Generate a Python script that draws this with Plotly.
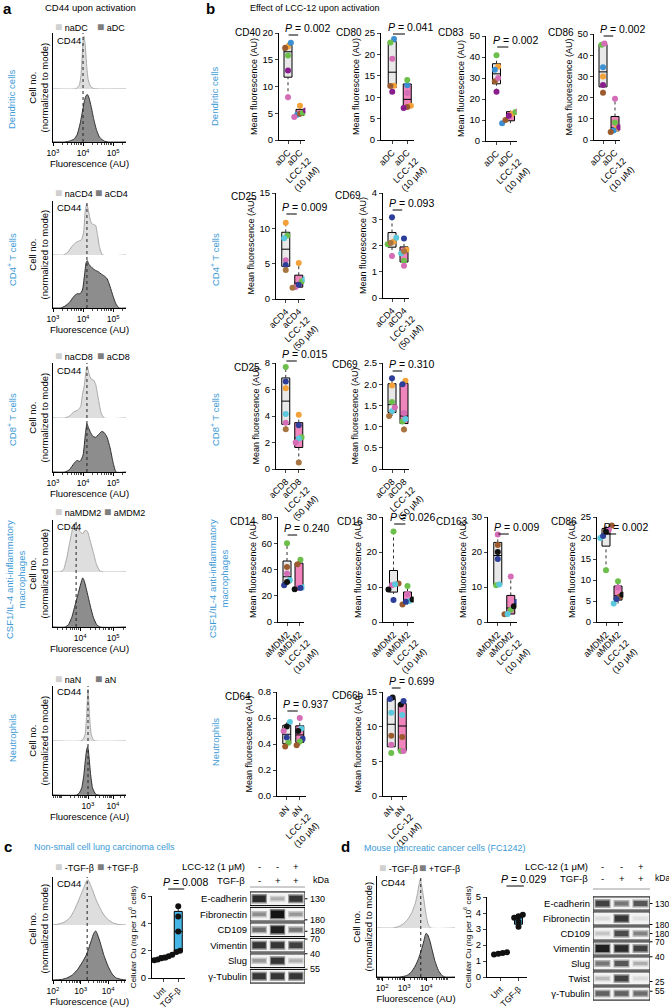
import numpy as np
import plotly.graph_objects as go

W, H = 669, 1008
FONT = "Liberation Sans, Arial, Helvetica, sans-serif"
BLUE = "#3d9ad6"
C_ORANGE = "#f3a23a"; C_BLUE = "#3b8fd3"; C_BROWN = "#9c5b2e"; C_GREEN = "#6dbf4c"
C_PURPLE = "#8a1d8c"; C_PINK = "#d46db6"; C_DBLUE = "#2c3e98"; C_CYAN = "#5cc8de"
C_TAN = "#a8743f"; C_BLACK = "#111111"

# ======================= DATA =======================
# Panel a: CD44 histograms (x = log10 fluorescence, y = cell no. normalized to mode)
dc_na_x = [3.0, 3.7, 3.8, 3.88, 3.93, 3.97, 4.0, 4.03, 4.07, 4.12, 4.17, 4.25, 4.35, 4.5, 5.43]
dc_na_y = [0, 0, 0.02, 0.08, 0.25, 0.6, 0.9, 1.0, 0.85, 0.45, 0.18, 0.05, 0.01, 0, 0]
dc_a_x = [3.0, 3.4, 3.55, 3.7, 3.8, 3.9, 3.98, 4.05, 4.1, 4.15, 4.2, 4.27, 4.35, 4.45, 4.55, 4.7, 4.85, 5.43]
dc_a_y = [0, 0, 0.02, 0.06, 0.15, 0.38, 0.65, 0.88, 0.98, 1.0, 0.93, 0.75, 0.5, 0.25, 0.1, 0.02, 0, 0]

cd4_na_x = [3.0, 3.35, 3.5, 3.62, 3.75, 3.85, 3.95, 4.02, 4.07, 4.12, 4.17, 4.22, 4.28, 4.35, 4.42, 4.48, 4.55, 4.65, 5.43]
cd4_na_y = [0, 0, 0.06, 0.16, 0.24, 0.27, 0.3, 0.45, 0.85, 1.0, 0.9, 0.75, 0.62, 0.6, 0.58, 0.4, 0.15, 0, 0]
cd4_a_x = [3.0, 3.25, 3.4, 3.55, 3.7, 3.8, 3.9, 3.98, 4.05, 4.1, 4.14, 4.2, 4.3, 4.4, 4.5, 4.6, 4.7, 4.8, 4.9, 5.0, 5.1, 5.2, 5.43]
cd4_a_y = [0, 0, 0.04, 0.12, 0.25, 0.3, 0.3, 0.38, 0.7, 0.95, 1.0, 0.92, 0.85, 0.8, 0.77, 0.72, 0.68, 0.62, 0.45, 0.25, 0.08, 0, 0]

cd8_na_x = [3.0, 3.4, 3.55, 3.7, 3.82, 3.92, 3.98, 4.04, 4.1, 4.14, 4.2, 4.27, 4.35, 4.42, 4.5, 4.6, 4.7, 5.43]
cd8_na_y = [0, 0, 0.04, 0.12, 0.15, 0.22, 0.45, 0.62, 0.9, 1.0, 0.85, 0.75, 0.73, 0.65, 0.4, 0.1, 0, 0]
cd8_a_x = [3.0, 3.4, 3.55, 3.7, 3.8, 3.9, 4.0, 4.08, 4.13, 4.18, 4.25, 4.33, 4.42, 4.52, 4.62, 4.7, 4.8, 4.9, 5.0, 5.1, 5.43]
cd8_a_y = [0, 0, 0.05, 0.18, 0.24, 0.22, 0.35, 0.8, 1.0, 0.92, 0.82, 0.74, 0.72, 0.78, 0.84, 0.82, 0.72, 0.5, 0.2, 0, 0]

mdm_na_x = [3.18, 3.4, 3.5, 3.6, 3.7, 3.78, 3.85, 3.92, 4.0, 4.08, 4.15, 4.22, 4.3, 4.4, 4.5, 4.6, 4.7, 5.39]
mdm_na_y = [0, 0, 0.05, 0.3, 0.65, 0.9, 1.0, 0.92, 0.82, 0.78, 0.85, 0.83, 0.65, 0.4, 0.15, 0.02, 0, 0]
mdm_a_x = [3.18, 3.55, 3.65, 3.75, 3.85, 3.95, 4.02, 4.08, 4.12, 4.18, 4.25, 4.32, 4.4, 4.5, 4.6, 5.39]
mdm_a_y = [0, 0, 0.05, 0.2, 0.45, 0.7, 0.88, 1.0, 0.95, 0.8, 0.6, 0.4, 0.2, 0.05, 0, 0]

neu_na_x = [1.6, 2.7, 2.8, 2.88, 2.94, 2.98, 3.0, 3.02, 3.06, 3.12, 3.2, 3.3, 4.52]
neu_na_y = [0, 0, 0.03, 0.12, 0.45, 0.85, 1.0, 0.88, 0.5, 0.15, 0.03, 0, 0]
neu_a_x = [1.6, 2.55, 2.65, 2.75, 2.83, 2.9, 2.95, 2.99, 3.04, 3.1, 3.18, 3.3, 3.4, 4.52]
neu_a_y = [0, 0, 0.04, 0.15, 0.4, 0.75, 0.95, 1.0, 0.8, 0.45, 0.15, 0.02, 0, 0]

# Panel c / d: CD44 histograms (-TGF-b / +TGF-b)
c_no_x = [2.0, 2.2, 2.4, 2.6, 2.75, 2.9, 3.0, 3.1, 3.2, 3.27, 3.35, 3.45, 3.55, 3.7, 3.85, 4.0, 4.2, 4.4, 4.65]
c_no_y = [0, 0.02, 0.06, 0.15, 0.3, 0.5, 0.65, 0.8, 0.95, 1.0, 0.9, 0.75, 0.58, 0.38, 0.22, 0.12, 0.04, 0.01, 0]
c_tgf_x = [2.0, 2.3, 2.5, 2.7, 2.9, 3.05, 3.2, 3.3, 3.4, 3.48, 3.55, 3.62, 3.72, 3.85, 4.0, 4.15, 4.3, 4.5, 4.65]
c_tgf_y = [0, 0.01, 0.04, 0.1, 0.22, 0.35, 0.5, 0.65, 0.82, 0.95, 1.0, 0.92, 0.75, 0.5, 0.28, 0.12, 0.04, 0.01, 0]
d_no_x = [1.77, 2.5, 2.8, 3.0, 3.2, 3.35, 3.5, 3.6, 3.68, 3.73, 3.8, 3.9, 4.0, 4.1, 4.2, 5.3]
d_no_y = [0, 0, 0.04, 0.1, 0.2, 0.32, 0.5, 0.7, 0.9, 1.0, 0.85, 0.55, 0.25, 0.06, 0, 0]
d_tgf_x = [1.77, 2.8, 3.1, 3.3, 3.5, 3.65, 3.78, 3.88, 3.95, 4.0, 4.07, 4.15, 4.25, 4.4, 4.55, 4.7, 4.85, 5.3]
d_tgf_y = [0, 0, 0.03, 0.1, 0.25, 0.42, 0.62, 0.8, 0.95, 1.0, 0.96, 0.85, 0.65, 0.35, 0.15, 0.04, 0, 0]

# Panel b: mean fluorescence per donor (control, LCC-12)
dc_colors = [C_ORANGE, C_BLUE, C_BROWN, C_GREEN, C_PURPLE, C_PINK]
cd40_ctrl = [17.5, 18.2, 17.2, 15.8, 13.0, 8.0]
cd40_lcc = [6.4, 4.7, 4.9, 5.1, 5.5, 4.3]
cd80_ctrl = [12.7, 23.6, 12.6, 22.8, 11.3, 19.0]
cd80_lcc = [8.0, 12.8, 7.7, 14.0, 7.5, 11.0]
cd83_ctrl = [35.5, 34.0, 28.5, 40.8, 23.5, 30.0]
cd83_lcc = [13.0, 8.5, 10.0, 13.8, 12.0, 14.5]
cd86dc_ctrl = [30.0, 34.3, 22.3, 45.0, 26.0, 45.5]
cd86dc_lcc = [5.5, 4.5, 3.8, 8.3, 6.0, 19.5]

t_colors = [C_ORANGE, C_GREEN, C_CYAN, C_PINK, C_DBLUE, C_TAN]
cd25_cd4_ctrl = [10.8, 9.0, 8.6, 5.5, 4.8, 4.1]
cd25_cd4_lcc = [5.1, 2.5, 2.8, 1.7, 2.0, 1.6]
cd69_cd4_ctrl = [2.14, 2.05, 2.3, 1.6, 3.08, 2.1]
cd69_cd4_lcc = [1.84, 1.42, 1.7, 1.23, 2.27, 1.78]
cd25_cd8_ctrl = [6.1, 7.7, 4.15, 3.5, 6.6, 3.0]
cd25_cd8_lcc = [4.1, 2.4, 2.3, 2.0, 3.3, 0.5]
cd69_cd8_ctrl = [1.97, 1.58, 1.36, 1.46, 2.14, 1.25]
cd69_cd8_lcc = [2.08, 1.12, 1.18, 1.32, 2.0, 0.93]

m_colors = [C_GREEN, C_BROWN, C_PINK, C_CYAN, C_DBLUE, C_BLACK]
cd14_ctrl = [60.0, 42.0, 37.0, 32.0, 28.0, 30.5]
cd14_lcc = [47.5, 44.0, 26.0, 26.5, 26.0, 25.0]
cd16_ctrl = [25.9, 11.0, 10.5, 10.8, 6.3, 9.3]
cd16_lcc = [10.3, 5.0, 8.0, 6.0, 5.8, 6.4]
cd163_ctrl = [10.5, 22.0, 25.0, 10.7, 18.0, 20.0]
cd163_lcc = [3.5, 2.2, 13.0, 2.3, 5.8, 4.5]
cd86m_ctrl = [12.3, 23.0, 22.0, 20.0, 20.5, 21.5]
cd86m_lcc = [9.7, 6.0, 8.2, 4.4, 5.5, 6.5]

n_colors = [C_CYAN, C_BLACK, C_DBLUE, C_GREEN, C_BROWN, C_PINK]
cd64_ctrl = [0.57, 0.535, 0.45, 0.41, 0.38, 0.50]
cd64_lcc = [0.52, 0.50, 0.44, 0.42, 0.39, 0.60]
cd66b_ctrl = [12.0, 14.2, 14.0, 6.2, 8.7, 7.4]
cd66b_lcc = [11.7, 13.2, 13.7, 6.5, 8.5, 6.5]

# Panels c / d: cellular Cu (ng per 10^6 cells)
c_cu_unt = [1.3, 1.35, 1.45, 1.5, 1.6, 1.7]
c_cu_tgf = [5.25, 4.5, 3.4, 2.0, 1.9]
d_cu_unt = [1.4, 1.45, 1.5, 1.55]
d_cu_tgf = [3.9, 3.8, 3.7, 3.45, 3.15]

# Western blots: band intensity (0 = none, 1 = saturated), lanes 1-3
c_proteins = ["E-cadherin", "Fibronectin", "CD109", "Vimentin", "Slug", "γ-Tubulin"]
c_bands = [[0.9, 0.3, 0.85], [0.45, 1.0, 0.4], [0.6, 0.95, 0.55],
           [0.85, 0.85, 0.8], [0.4, 0.85, 0.3], [0.85, 0.85, 0.85]]
d_proteins = ["E-cadherin", "Fibronectin", "CD109", "Vimentin", "Slug", "Twist", "γ-Tubulin"]
d_bands = [[0.8, 0.55, 0.7], [0.1, 0.85, 0.08], [0.2, 0.75, 0.5], [0.95, 0.9, 0.8],
           [0.55, 0.7, 0.3], [0.25, 0.8, 0.1], [0.65, 0.65, 0.6]]
lcc_row = ["-", "-", "+"]
tgf_row = ["-", "+", "+"]
c_kda = [(0, "130"), (1.36, "180"), (2.1, "180"), (2.6, "70"), (3.55, "40"), (4.55, "55")]
d_kda = [(0, "130"), (1.4, "180"), (2.0, "180"), (2.55, "70"), (3.55, "40"), (5.2, "25"), (5.85, "55")]

# ======================= FIGURE =======================
fig = go.Figure()
layout = dict(width=W, height=H, margin=dict(l=0, r=0, t=0, b=0, pad=0, autoexpand=False),
              template="none",
              paper_bgcolor="white", plot_bgcolor="rgba(0,0,0,0)", showlegend=False,
              font=dict(family=FONT, size=9, color="black"))
annotations, shapes = [], []
cnt = {"x": 0, "y": 0}


def new_axis(k):
    cnt[k] += 1
    n = cnt[k]
    return (f"{k}axis" if n == 1 else f"{k}axis{n}"), (k if n == 1 else f"{k}{n}")


def txt(x, y, s, size=9, color="black", xanchor="center", yanchor="middle", angle=0,
        xref="paper", yref="paper", align="center"):
    annotations.append(dict(
        x=x / W if xref == "paper" else x, y=1 - y / H if yref == "paper" else y,
        xref=xref, yref=yref, text=s, showarrow=False, xanchor=xanchor, yanchor=yanchor,
        textangle=angle, align=align, font=dict(size=size, color=color, family=FONT)))


def hist_block(x0, x1, ytop, ymid, ybot, xr, na_x, na_y, a_x, a_y, dash, majors,
               leg, leg_y, leg_x2, cd_y):
    xk, xref = new_axis("x")
    ybk, ybref = new_axis("y")
    ytk, ytref = new_axis("y")
    minors = []
    for e in range(int(np.floor(xr[0])), int(np.ceil(xr[1])) + 1):
        for m in range(2, 10):
            v = float(np.log10(m) + e)
            if xr[0] <= v <= xr[1]:
                minors.append(v)
    layout[xk] = dict(domain=[x0 / W, x1 / W], range=xr, anchor=ybref, showline=True,
                      automargin=False,
                      linecolor="black", linewidth=1, ticks="outside", ticklen=3, tickwidth=1,
                      tickcolor="black", tickvals=majors,
                      ticktext=[f"10<sup>{m}</sup>" for m in majors], tickfont=dict(size=8.5),
                      showgrid=False, zeroline=False,
                      title=dict(text="Fluorescence (AU)", font=dict(size=9.5), standoff=0),
                      minor=dict(tickvals=minors, ticks="outside", ticklen=2, tickwidth=0.7,
                                 tickcolor="black", showgrid=False))
    cy = dict(showline=True, linecolor="black", linewidth=1, showticklabels=False, ticks="",
              showgrid=False, zeroline=False, anchor=xref, automargin=False)
    layout[ybk] = dict(domain=[1 - ybot / H, 1 - ymid / H], range=[0, 1.12], **cy)
    layout[ytk] = dict(domain=[1 - ymid / H, 1 - ytop / H], range=[0, 1.06], **cy)
    fig.add_trace(go.Scatter(x=na_x, y=na_y, xaxis=xref, yaxis=ytref, mode="lines",
                             line=dict(color="#a8a8a8", width=1, shape="spline", smoothing=0.5),
                             fill="tozeroy", fillcolor="#dedede", hoverinfo="skip"))
    fig.add_trace(go.Scatter(x=a_x, y=a_y, xaxis=xref, yaxis=ybref, mode="lines",
                             line=dict(color="#2e2e2e", width=1, shape="spline", smoothing=0.5),
                             fill="tozeroy", fillcolor="#8d8d8d", hoverinfo="skip"))
    shapes.append(dict(type="line", xref=xref, yref="paper", x0=dash, x1=dash,
                       y0=1 - ybot / H, y1=1 - ytop / H,
                       line=dict(color="#222222", width=1, dash="dot")))
    sq = '<span style="font-size:12px;color:{}">■</span> '
    txt(x0, leg_y, sq.format("#d0d0d0") + leg[0], size=9, xanchor="left")
    txt(leg_x2, leg_y, sq.format("#7d7d7d") + leg[1], size=9, xanchor="left")
    txt(x0 + 2, cd_y, "CD44", size=9.5, xanchor="left")
    txt(x0 - 15, (ytop + ybot) / 2, "Cell no.<br>(normalized to mode)", size=9.5, angle=-90)


def swarm_offsets(vals, span):
    vals = np.asarray(vals, float)
    order = np.argsort(vals)
    off = np.zeros(len(vals))
    clusters, cur = [], [order[0]]
    for i in order[1:]:
        if vals[i] - vals[cur[-1]] < 0.045 * span:
            cur.append(i)
        else:
            clusters.append(cur)
            cur = [i]
    clusters.append(cur)
    for cl in clusters:
        k = len(cl)
        for j, idx in enumerate(cl):
            off[idx] = (j - (k - 1) / 2) * 0.24
    return off


def box_panel(cfg, groups, colors, ticklabels, fills, ytitle="Mean fluorescence (AU)",
              tsize=9, xfs=9):
    xk, xref = new_axis("x")
    yk, yref = new_axis("y")
    s = cfg["s"]
    lo, hi = -0.75, 1.45
    x0 = cfg["ax"]
    x1 = x0 + (hi - lo) * s
    layout[xk] = dict(domain=[x0 / W, x1 / W], range=[lo, hi], anchor=yref, showline=True,
                      automargin=False,
                      linecolor="black", linewidth=1, ticks="outside", ticklen=3, tickwidth=1,
                      tickvals=[0, 1], ticktext=ticklabels, tickangle=-45,
                      tickfont=dict(size=xfs), showgrid=False, zeroline=False)
    ya = dict(domain=[1 - cfg["y0"] / H, 1 - cfg["ytop"] / H], range=[0, cfg["ymax"] * 1.0005],
              anchor=xref, showline=True, linecolor="black", linewidth=1, ticks="outside",
              automargin=False,
              ticklen=3, tickwidth=1, tick0=0, dtick=cfg["dtick"], tickfont=dict(size=9.5),
              showgrid=False, zeroline=False,
              title=dict(text=ytitle, font=dict(size=tsize), standoff=3))
    if "tickformat" in cfg:
        ya["tickformat"] = cfg["tickformat"]
    if "ticktext" in cfg:
        ya["tickvals"] = [i * cfg["dtick"] for i in range(len(cfg["ticktext"]))]
        ya["ticktext"] = cfg["ticktext"]
    layout[yk] = ya
    bw = 8.0 / s
    for gi, vals in enumerate(groups):
        v = np.asarray(vals, float)
        q1, med, q3 = np.percentile(v, [25, 50, 75], method="weibull")
        fig.add_trace(go.Box(x=[gi], q1=[q1], median=[med], q3=[q3], lowerfence=[q1],
                             upperfence=[q3], width=bw, fillcolor=fills[gi],
                             line=dict(color="black", width=1), whiskerwidth=0,
                             boxpoints=False, xaxis=xref, yaxis=yref, hoverinfo="skip"))
        for a, b in ((v.min(), q1), (q3, v.max())):
            fig.add_trace(go.Scatter(x=[gi, gi], y=[a, b], mode="lines", xaxis=xref, yaxis=yref,
                                     line=dict(color="#333333", width=1, dash="dot"),
                                     hoverinfo="skip"))
        off = swarm_offsets(v, cfg["ymax"])
        cols = colors if isinstance(colors, list) else [colors] * len(v)
        fig.add_trace(go.Scatter(x=gi + off, y=v, mode="markers", xaxis=xref, yaxis=yref,
                                 marker=dict(color=cols, size=6, line=dict(width=0)),
                                 hoverinfo="skip"))
    pxu = cfg.get("pxu", -0.42)
    txt(pxu, cfg["py"], f"<i>P</i> = {cfg['p']}", size=10.5, xanchor="left", xref=xref)
    pl = cfg.get("pl", (0.05, 0.85))
    shapes.append(dict(type="line", xref=xref, yref="paper", x0=pl[0], x1=pl[1],
                       y0=1 - (cfg["py"] + 7) / H, y1=1 - (cfg["py"] + 7) / H,
                       line=dict(color="black", width=1)))
    if "name" in cfg:
        txt(cfg["nx"], cfg["ny"], cfg["name"], size=10, xanchor="right")


def blot(cfg, proteins, bands, kda):
    xk, xref = new_axis("x")
    yk, yref = new_axis("y")
    n = len(proteins)
    layout[xk] = dict(domain=[cfg["x0"] / W, cfg["x1"] / W], range=[0.5, 3.5], anchor=yref,
                      visible=False, automargin=False)
    layout[yk] = dict(domain=[1 - cfg["y1"] / H, 1 - cfg["y0"] / H], range=[n - 0.5, -0.5],
                      anchor=xref, showline=False, ticks="", tickvals=list(range(n)),
                      ticktext=proteins, tickfont=dict(size=9.5), showgrid=False,
                      zeroline=False, ticklabelstandoff=2, automargin=False)
    for i in range(n):
        shapes.append(dict(type="rect", xref=xref, yref=yref, x0=0.5, x1=3.5, y0=i - 0.44,
                           y1=i + 0.44, line=dict(color="black", width=1),
                           fillcolor="#f3f3f3", layer="below"))
    for i, row in enumerate(bands):
        for j, v in enumerate(row):
            th = 2.5 + 5.0 * v ** 2
            g = int(240 - 220 * v)
            g2 = int(240 - 110 * v)
            fig.add_trace(go.Scatter(x=[j + 1 - 0.42, j + 1 + 0.42], y=[i, i], mode="lines",
                                     xaxis=xref, yaxis=yref, hoverinfo="skip",
                                     line=dict(color=f"rgb({g2},{g2},{g2})", width=th + 3)))
            fig.add_trace(go.Scatter(x=[j + 1 - 0.36, j + 1 + 0.36], y=[i, i], mode="lines",
                                     xaxis=xref, yaxis=yref, hoverinfo="skip",
                                     line=dict(color=f"rgb({g},{g},{g})", width=th)))
    txt(cfg["x0"] - 3, cfg["h1"], "LCC-12 (1 μM)", size=9.5, xanchor="right")
    txt(cfg["x0"] - 3, cfg["h2"], "TGF-β", size=9.5, xanchor="right")
    for j in range(3):
        txt(j + 1, cfg["h1"], lcc_row[j], size=9.5, xref=xref)
        txt(j + 1, cfg["h2"], tgf_row[j], size=9.5, xref=xref)
    txt(cfg["x1"] + cfg.get("kx", 6), cfg["h2"], "kDa", size=cfg.get("ks", 9), xanchor="left")
    shapes.append(dict(type="line", xref="paper", yref="paper", x0=cfg["x0"] / W,
                       x1=cfg["x1"] / W, y0=1 - cfg["hl"] / H, y1=1 - cfg["hl"] / H,
                       line=dict(color="#9a9a9a", width=1)))
    for pos, lab in kda:
        shapes.append(dict(type="line", xref="paper", yref=yref, x0=cfg["x1"] / W,
                           x1=(cfg["x1"] + 2.5) / W, y0=pos, y1=pos,
                           line=dict(color="black", width=1)))
        annotations.append(dict(x=(cfg["x1"] + 2.5) / W, y=pos, xref="paper", yref=yref,
                                text=lab, showarrow=False, xanchor="left", yanchor="middle",
                                font=dict(size=cfg.get("ks", 9), family=FONT)))


# ---------------- Panel a ----------------
txt(7, 9, "<b>a</b>", size=15)
txt(90, 8, "CD44 upon activation", size=9.5)
hist_block(53, 126, 33, 89, 142, [3, 5.43], dc_na_x, dc_na_y, dc_a_x, dc_a_y, 4.0,
           [3, 4, 5], ("naDC", "aDC"), 27, 95, 41)
hist_block(53, 126, 201, 255, 308, [3, 5.43], cd4_na_x, cd4_na_y, cd4_a_x, cd4_a_y, 4.13,
           [3, 4, 5], ("naCD4", "aCD4"), 193, 93, 208)
hist_block(53, 126, 363, 418, 472, [3, 5.43], cd8_na_x, cd8_na_y, cd8_a_x, cd8_a_y, 4.13,
           [3, 4, 5], ("naCD8", "aCD8"), 356, 95, 370)
hist_block(53, 126, 520, 572, 627, [3.18, 5.39], mdm_na_x, mdm_na_y, mdm_a_x, mdm_a_y, 3.88,
           [4, 5], ("naMDM2", "aMDM2"), 512, 102, 526)
hist_block(53, 126, 686, 741, 795, [1.6, 4.52], neu_na_x, neu_na_y, neu_a_x, neu_a_y, 3.0,
           [3, 4], ("naN", "aN"), 679, 93, 691)

txt(12, 100, "Dendritic cells", size=9.5, color=BLUE, angle=-90)
txt(12, 260, "CD4<sup>+</sup> T cells", size=9.5, color=BLUE, angle=-90)
txt(12, 420, "CD8<sup>+</sup> T cells", size=9.5, color=BLUE, angle=-90)
txt(15, 580, "CSF1/IL-4 anti-inflammatory<br>macrophages", size=9.5, color=BLUE, angle=-90)
txt(12, 738, "Neutrophils", size=9.5, color=BLUE, angle=-90)

# ---------------- Panel b ----------------
txt(210, 9, "<b>b</b>", size=15)
txt(248, 8, "Effect of LCC-12 upon activation", size=9, xanchor="left")
txt(215, 97, "Dendritic cells", size=9.5, color=BLUE, angle=-90)
txt(215, 260, "CD4<sup>+</sup> T cells", size=9.5, color=BLUE, angle=-90)
txt(215, 420, "CD8<sup>+</sup> T cells", size=9.5, color=BLUE, angle=-90)
txt(218, 578, "CSF1/IL-4 anti-inflammatory<br>macrophages", size=9.5, color=BLUE, angle=-90)
txt(215, 742, "Neutrophils", size=9.5, color=BLUE, angle=-90)

GREY_F, PINK_F = "#e8e8e8", "#f084bd"
lab_dc = ["aDC", "aDC<br>LCC-12<br>(10 μM)"]
lab_cd4 = ["aCD4", "aCD4<br>LCC-12<br>(50 μM)"]
lab_cd8 = ["aCD8", "aCD8<br>LCC-12<br>(50 μM)"]
lab_m = ["aMDM2", "aMDM2<br>LCC-12<br>(10 μM)"]
lab_n = ["aN", "aN<br>LCC-12<br>(10 μM)"]
fills = [GREY_F, PINK_F]

box_panel(dict(name="CD40", ax=279, s=12, ytop=33, y0=140, ymax=20, dtick=5, p="0.002", py=28, nx=263, ny=33),
          [cd40_ctrl, cd40_lcc], dc_colors, lab_dc, fills)
box_panel(dict(name="CD80", ax=381, s=15, ytop=33, y0=140, ymax=25, dtick=5, p="0.041", py=27, nx=364, ny=33),
          [cd80_ctrl, cd80_lcc], dc_colors, lab_dc, fills)
box_panel(dict(name="CD83", ax=486, s=14, ytop=36, y0=141, ymax=50, dtick=10, p="0.002", py=40, nx=466, ny=33),
          [cd83_ctrl, cd83_lcc], dc_colors, lab_dc, fills)
box_panel(dict(name="CD86", ax=594, s=12, ytop=34, y0=140, ymax=50, dtick=10, p="0.002", py=29, nx=576, ny=33),
          [cd86dc_ctrl, cd86dc_lcc], dc_colors, lab_dc, fills)

box_panel(dict(name="CD25", ax=276, s=13, ytop=193, y0=299, ymax=15, dtick=5, p="0.009", py=207, nx=259, ny=197),
          [cd25_cd4_ctrl, cd25_cd4_lcc], t_colors, lab_cd4, fills)
box_panel(dict(name="CD69", ax=383, s=12, ytop=193, y0=298, ymax=4, dtick=1, p="0.093", py=203, nx=363, ny=196),
          [cd69_cd4_ctrl, cd69_cd4_lcc], t_colors, lab_cd4, fills)

box_panel(dict(name="CD25", ax=276, s=13, ytop=363, y0=469, ymax=8, dtick=2, p="0.015", py=354, nx=262, ny=367),
          [cd25_cd8_ctrl, cd25_cd8_lcc], t_colors, lab_cd8, fills)
box_panel(dict(name="CD69", ax=383, s=12, ytop=363, y0=469, ymax=2.5, dtick=0.5, p="0.310", py=364, nx=360, ny=364,
               ticktext=["0", "0.5", "1.0", "1.5", "2.0", "2.5"]),
          [cd69_cd8_ctrl, cd69_cd8_lcc], t_colors, lab_cd8, fills)

box_panel(dict(name="CD14", ax=278, s=12, ytop=517, y0=622, ymax=80, dtick=20, p="0.240", py=528, nx=258, ny=521),
          [cd14_ctrl, cd14_lcc], m_colors, lab_m, fills)
box_panel(dict(name="CD16", ax=383, s=14, ytop=517, y0=622, ymax=30, dtick=10, p="0.026", py=517, nx=365, ny=521),
          [cd16_ctrl, cd16_lcc], m_colors, lab_m, fills)
box_panel(dict(name="CD163", ax=488, s=13, ytop=517, y0=622, ymax=30, dtick=10, p="0.009", py=527, nx=470, ny=521),
          [cd163_ctrl, cd163_lcc], m_colors, lab_m, fills)
box_panel(dict(name="CD86", ax=597, s=12, ytop=517, y0=622, ymax=25, dtick=5, p="0.002", py=527, nx=579, ny=521),
          [cd86m_ctrl, cd86m_lcc], m_colors, lab_m, fills)

box_panel(dict(name="CD64", ax=277, s=13, ytop=692, y0=796, ymax=0.8, dtick=0.2, tickformat=".1f", p="0.937", py=704, nx=253, ny=696),
          [cd64_ctrl, cd64_lcc], n_colors, lab_n, fills)
box_panel(dict(name="CD66b", ax=383, s=11, ytop=692, y0=796, ymax=15, dtick=5, p="0.699", py=681, nx=366, ny=695),
          [cd66b_ctrl, cd66b_lcc], n_colors, lab_n, fills)

# ---------------- Panel c ----------------
txt(8, 846, "<b>c</b>", size=15)
txt(32, 847, "Non-small cell lung carcinoma cells", size=9, color=BLUE, xanchor="left")
hist_block(53, 126, 877, 925, 980, [2, 4.65], c_no_x, c_no_y, c_tgf_x, c_tgf_y, 3.24,
           [2, 3, 4], ("-TGF-β", "+TGF-β"), 867, 95, 883)
CU_F = "#45b6e6"
box_panel(dict(ax=152, s=15, ytop=896, y0=978, ymax=6, dtick=2, p="0.008", py=882, pxu=-0.13, pl=(0.33, 1.4)),
          [c_cu_unt, c_cu_tgf], C_BLACK, ["Unt", "TGF-β"], [CU_F, CU_F],
          ytitle="Cellular Cu (ng per 10<sup>6</sup> cells)", tsize=8, xfs=8.5)
blot(dict(x0=250, x1=305, y0=891, y1=984, h1=866, h2=880, hl=887),
     c_proteins, c_bands, c_kda)

# ---------------- Panel d ----------------
txt(345, 846, "<b>d</b>", size=15)
txt(362, 848, "Mouse pancreatic cancer cells (FC1242)", size=9, color=BLUE, xanchor="left")
hist_block(377, 455, 876, 928, 977, [1.77, 5.3], d_no_x, d_no_y, d_tgf_x, d_tgf_y, 3.75,
           [2, 3, 4], ("-TGF-β", "+TGF-β"), 868, 417, 882)
box_panel(dict(ax=487, s=18, ytop=897, y0=977, ymax=5, dtick=1, p="0.029", py=879, pxu=-0.1, pl=(0.33, 1.3)),
          [d_cu_unt, d_cu_tgf], C_BLACK, ["Unt", "TGF-β"], [CU_F, CU_F],
          ytitle="Cellular Cu (ng per 10<sup>6</sup> cells)", tsize=8, xfs=8.5)
blot(dict(x0=593, x1=650, y0=896, y1=1001, h1=866, h2=878, hl=889, kx=3, ks=8.5),
     d_proteins, d_bands, d_kda)

layout["annotations"] = annotations
layout["shapes"] = shapes
fig.update_layout(**layout)
fig.write_html("out.html", config={"displayModeBar": False, "staticPlot": True},
               post_script="document.body.style.margin='0px';document.body.style.padding='0px';"
                           "document.documentElement.style.overflow='hidden';")
